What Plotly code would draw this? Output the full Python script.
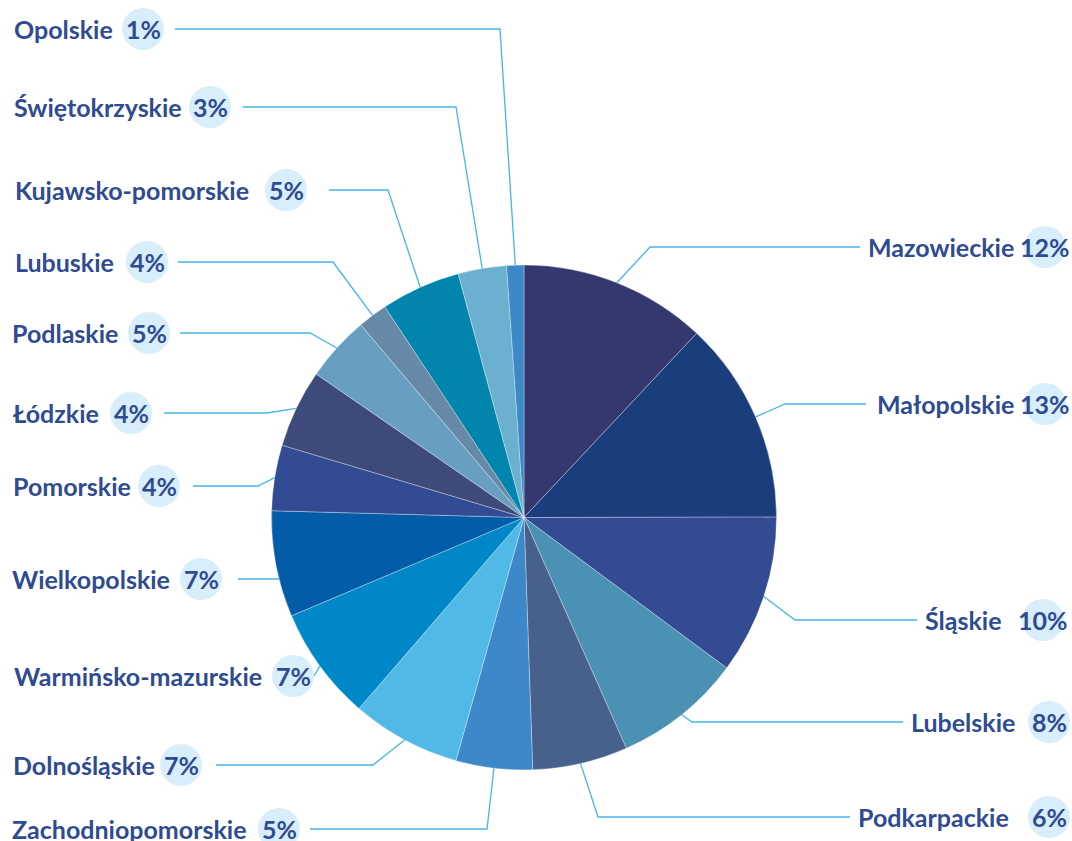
import math
import plotly.graph_objects as go

W, H = 1072, 841

# ---- data ----
regions = ["Mazowieckie", "Małopolskie", "Śląskie", "Lubelskie", "Podkarpackie",
           "Zachodniopomorskie", "Dolnośląskie", "Warmińsko-mazurskie", "Wielkopolskie",
           "Pomorskie", "Łódzkie", "Podlaskie", "Lubuskie", "Kujawsko-pomorskie",
           "Świętokrzyskie", "Opolskie"]
shares = [12.0, 13.0, 10.2, 8.2, 6.1, 4.9, 7.0, 7.3, 6.8, 4.2, 5.0, 4.2, 1.9, 5.1, 3.1, 1.1]
pct_labels = ["12%", "13%", "10%", "8%", "6%", "5%", "7%", "7%", "7%", "4%", "4%", "5%",
              "4%", "5%", "3%", "1%"]
colors = ["#35386e", "#1a3e7c", "#324b92", "#4a91b4", "#48618c", "#3c88c8", "#50b9e8",
          "#0087c8", "#035ca8", "#324b92", "#3e4a7a", "#689fc0", "#6689a8", "#0285ad",
          "#6bb0ce", "#3d89c8"]

# ---- label layout (pixel positions of label furniture) ----
# side, label centre y, badge centre x, name anchor x, leader end x, elbow x (None = straight)
label_layout = {
    "Mazowieckie": ("right", 247, 1045, 1016, 860, 650),
    "Małopolskie": ("right", 404, 1045, 1016, 866, 785),
    "Śląskie": ("right", 620, 1043, 1004, 917, 795),
    "Lubelskie": ("right", 722, 1049, 1017, 903, 692),
    "Podkarpackie": ("right", 817, 1049, 1011, 850, 598),
    "Zachodniopomorskie": ("left", 829, 279, 10, 310, 487),
    "Dolnośląskie": ("left", 765, 181, 11, 216, 373),
    "Warmińsko-mazurskie": ("left", 676, 293, 12, 314, 314),
    "Wielkopolskie": ("left", 579, 201, 10, 238, None),
    "Pomorskie": ("left", 486, 159, 11, 193, 258),
    "Łódzkie": ("left", 413, 131, 11, 164, 267),
    "Podlaskie": ("left", 333, 149, 10, 180, 310),
    "Lubuskie": ("left", 262, 147, 13, 178, 333),
    "Kujawsko-pomorskie": ("left", 190, 286, 13, 329, 388),
    "Świętokrzyskie": ("left", 107, 210, 12, 243, 456),
    "Opolskie": ("left", 29, 143, 12, 175, 500),
}

CX, CY, R = 524, 517.5, 252.5
TEXT_COLOR = "#2f4b91"
LINE_COLOR = "#45b5e8"
BADGE_COLOR = "#d8eefa"
BADGE_R = 21
FONT = "Lato"
FSIZE = 25


def px(x):
    return x / W


def py(y):
    return 1 - y / H


fig = go.Figure()
fig.add_trace(go.Pie(
    labels=regions,
    values=shares,
    sort=False,
    direction="clockwise",
    rotation=0,
    textinfo="none",
    marker=dict(colors=colors, line=dict(color="rgba(255,255,255,0.45)", width=0.7)),
    domain=dict(x=[px(CX - R), px(CX + R)], y=[py(CY + R), py(CY - R)]),
    showlegend=False,
    hoverinfo="label+percent",
))

total = sum(shares)
shapes = []
annotations = []
cum = 0.0
for name, val, pct in zip(regions, shares, pct_labels):
    mid = (cum + val / 2) / total * 2 * math.pi
    cum += val
    side, ly, bx, nx, lx, ex = label_layout[name]
    if ex is None:
        # straight leader: meet the pie rim at the label's height
        dx = math.sqrt(max(R * R - (ly - CY) ** 2, 0))
        sx = CX - dx if side == "left" else CX + dx
        path = "M {} {} L {} {}".format(px(sx), py(ly), px(lx), py(ly))
    else:
        sx = CX + R * math.sin(mid)
        sy = CY - R * math.cos(mid)
        path = "M {} {} L {} {} L {} {}".format(px(sx), py(sy), px(ex), py(ly), px(lx), py(ly))
    shapes.append(dict(type="path", path=path, xref="paper", yref="paper",
                       line=dict(color=LINE_COLOR, width=1.3), layer="above"))
    shapes.append(dict(type="circle", xref="paper", yref="paper",
                       x0=px(bx - BADGE_R), x1=px(bx + BADGE_R),
                       y0=py(ly + BADGE_R), y1=py(ly - BADGE_R),
                       fillcolor=BADGE_COLOR, line=dict(width=0), layer="above"))
    annotations.append(dict(text=name, x=px(nx), y=py(ly), xref="paper", yref="paper",
                            xanchor="left" if side == "left" else "right", yanchor="middle",
                            showarrow=False,
                            font=dict(family=FONT, size=FSIZE, color=TEXT_COLOR, weight="bold")))
    annotations.append(dict(text=pct, x=px(bx), y=py(ly), xref="paper", yref="paper",
                            xanchor="center", yanchor="middle", showarrow=False,
                            font=dict(family=FONT, size=FSIZE, color=TEXT_COLOR, weight="bold")))

fig.update_layout(
    width=W, height=H,
    margin=dict(l=0, r=0, t=0, b=0),
    paper_bgcolor="white",
    plot_bgcolor="white",
    shapes=shapes,
    annotations=annotations,
)

fig.write_html("out.html",
               config={"displayModeBar": False},
               post_script="document.body.style.margin='0';document.body.style.overflow='hidden';")
